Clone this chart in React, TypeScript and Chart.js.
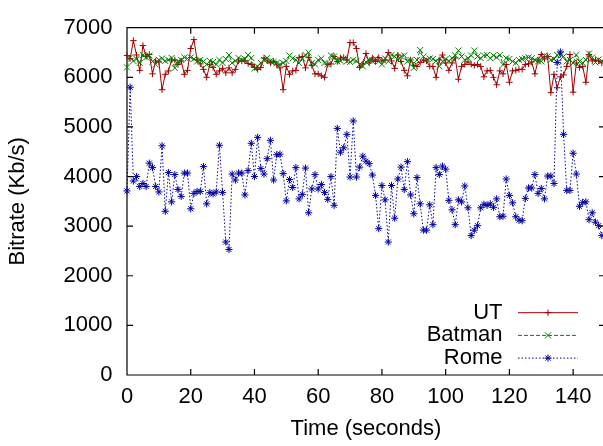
import React, { useEffect, useRef } from "react";
import { Chart, registerables } from "chart.js";

Chart.register(...registerables);

// ---- data ----
const seconds: number[] = Array.from({ length: 150 }, (_, i) => i);

const utBitrate: number[] = [
  6440, 6380, 6740, 6450, 6140, 6640, 6420, 6460, 6070, 6330,
  6310, 5750, 6060, 6130, 6350, 6350, 6260, 6330, 6060, 6140,
  6580, 6760, 6350, 6270, 6160, 6000, 6260, 6200, 6060, 6130,
  6180, 6090, 6190, 6090, 6160, 6330, 6330, 6330, 6280, 6260,
  6200, 6160, 6200, 6390, 6330, 6290, 6320, 6250, 6190, 5750,
  6220, 6060, 6130, 6140, 6400, 6420, 6190, 6400, 6240, 6070,
  6070, 6030, 6000, 6260, 6270, 6420, 6320, 6390, 6400, 6350,
  6700, 6700, 6580, 6200, 6270, 6480, 6290, 6390, 6320, 6400,
  6330, 6350, 6500, 6330, 6180, 6450, 6320, 6140, 6030, 6350,
  6240, 6220, 6300, 6350, 6330, 6220, 6220, 6000, 6350, 6450,
  6290, 6140, 6290, 6390, 5960, 6220, 6260, 6310, 6260, 6240,
  6260, 6220, 6010, 6130, 6140, 6000, 5850, 6130, 6070, 6260,
  5900, 6130, 6140, 6160, 6160, 6260, 6270, 6310, 6070, 6350,
  6460, 6370, 6420, 5690, 6060, 5790, 6010, 6050, 6220, 6460,
  5700, 6290, 6200, 6220, 5900, 6460, 6330, 6350, 6330, 6290,
];

const batmanBitrate: number[] = [
  6200, 6400, 6330, 6370, 6290, 6450, 6400, 6440, 6320, 6260,
  6350, 6380, 6330, 6350, 6390, 6190, 6320, 6350, 6400, 6380,
  6400, 6370, 6320, 6350, 6320, 6260, 6330, 6310, 6260, 6350,
  6290, 6370, 6450, 6290, 6330, 6390, 6350, 6370, 6450, 6390,
  6180, 6220, 6290, 6350, 6390, 6330, 6310, 6290, 6260, 6290,
  6330, 6440, 6380, 6350, 6290, 6380, 6450, 6500, 6290, 6260,
  6350, 6380, 6290, 6260, 6440, 6420, 6320, 6330, 6380, 6320,
  6310, 6350, 6330, 6260, 6220, 6310, 6350, 6320, 6380, 6320,
  6260, 6380, 6320, 6450, 6420, 6350, 6420, 6440, 6320, 6350,
  6190, 6350, 6550, 6420, 6350, 6380, 6370, 6330, 6220, 6320,
  6370, 6330, 6385, 6440, 6540, 6420, 6350, 6385, 6440, 6540,
  6420, 6385, 6440, 6450, 6385, 6440, 6400, 6450, 6255, 6385,
  6370, 6320, 6290, 6350, 6370, 6385, 6400, 6385, 6350, 6320,
  6320, 6440, 6420, 6350, 6370, 6450, 6460, 6420, 6320, 6350,
  6290, 6450, 6320, 6290, 6350, 6480, 6400, 6300, 6360, 6330,
];

const romeBitrate: number[] = [
  3710, 5800, 3910, 4000, 3800, 3860, 3800, 4270, 4180, 3800,
  3690, 4620, 3300, 4080, 3490, 4040, 3740, 3600, 4070, 4070,
  3350, 3660, 3700, 3700, 4200, 3450, 3680, 3650, 3690, 4630,
  3680, 2680, 2530, 4050, 3930, 4070, 4070, 3630, 4120, 4670,
  4000, 4790, 4160, 4050, 4360, 4730, 3930, 4440, 4450, 4060,
  3510, 3940, 3780, 4180, 3550, 3640, 4170, 3270, 3750, 4040,
  3750, 3840, 3680, 3540, 4000, 3420, 4970, 4490, 4580, 4850,
  3990, 5120, 3990, 4190, 4410, 4310, 4260, 4030, 3620, 2950,
  3820, 3530, 2680, 3820, 3160, 3950, 4190, 3740, 4300, 3630,
  3250, 3980, 3450, 2920, 2920, 3430, 3030, 4180, 4040, 4210,
  4150, 3520, 3330, 3030, 3530, 3490, 3810, 3370, 2810, 2920,
  3010, 3370, 3440, 3420, 3450, 3380, 3550, 3190, 3200, 3950,
  3620, 3470, 3190, 3120, 3110, 3560, 3770, 3770, 4040, 3660,
  3760, 3550, 4010, 4010, 3860, 6300, 6510, 4850, 3720, 3720,
  4470, 4050, 3400, 3480, 3490, 3130, 3270, 3080, 3010, 2810,
];

const xTicks: number[] = [0, 20, 40, 60, 80, 100, 120, 140];
const yTicks: number[] = [0, 1000, 2000, 3000, 4000, 5000, 6000, 7000];
const seriesNames: string[] = ["UT", "Batman", "Rome"];

// ---- styles ----
const FONT_FAMILY = "'Liberation Sans', Arial, Helvetica, sans-serif";
const FONT_SIZE = 22;
const RED = "#a00000";
const GREEN = "#008000";
const BLUE = "#0000a0";

function drawMarker(ctx: CanvasRenderingContext2D, style: string, x: number, y: number, r: number) {
  ctx.beginPath();
  if (style === "cross" || style === "star") {
    ctx.moveTo(x - r, y);
    ctx.lineTo(x + r, y);
    ctx.moveTo(x, y - r);
    ctx.lineTo(x, y + r);
  }
  if (style === "crossRot" || style === "star") {
    const d = r * Math.SQRT1_2;
    ctx.moveTo(x - d, y - d);
    ctx.lineTo(x + d, y + d);
    ctx.moveTo(x - d, y + d);
    ctx.lineTo(x + d, y - d);
  }
  ctx.stroke();
}

const framePlugin = {
  id: "gnuplotFrame",
  beforeDatasetsDraw(chart: any) {
    const { ctx, chartArea } = chart;
    const { left, right, top, bottom } = chartArea;
    const xs = chart.scales.x;
    const ys = chart.scales.y;
    const tl = 6;
    ctx.save();
    ctx.strokeStyle = "#000";
    ctx.lineWidth = 1.2;
    ctx.beginPath();
    ctx.rect(left, top, right - left, bottom - top);
    for (const v of yTicks) {
      const py = ys.getPixelForValue(v);
      ctx.moveTo(left, py);
      ctx.lineTo(left + tl, py);
      ctx.moveTo(right, py);
      ctx.lineTo(right - tl, py);
    }
    for (const v of xTicks) {
      const px = xs.getPixelForValue(v);
      ctx.moveTo(px, bottom);
      ctx.lineTo(px, bottom - tl);
      ctx.moveTo(px, top);
      ctx.lineTo(px, top + tl);
    }
    ctx.stroke();
    ctx.restore();
  },
  afterDraw(chart: any) {
    const { ctx, chartArea } = chart;
    const { right, bottom } = chartArea;
    ctx.save();
    ctx.font = `${FONT_SIZE}px ${FONT_FAMILY}`;
    ctx.textAlign = "right";
    ctx.textBaseline = "middle";
    chart.data.datasets.forEach((ds: any, i: number) => {
      const y = bottom - 62.3 + i * 22.7;
      ctx.fillStyle = "#000";
      ctx.fillText(ds.label, right - 102.5, y);
      ctx.strokeStyle = ds.borderColor;
      ctx.lineWidth = 1;
      ctx.setLineDash(ds.borderDash || []);
      ctx.beginPath();
      ctx.moveTo(right - 87, y);
      ctx.lineTo(right - 27, y);
      ctx.stroke();
      ctx.setLineDash([]);
      drawMarker(ctx, ds.pointStyle, right - 57, y, ds.pointRadius);
    });
    ctx.restore();
  },
};

export default function App() {
  const canvasRef = useRef<HTMLCanvasElement | null>(null);

  useEffect(() => {
    document.body.style.margin = "0";
    const canvas = canvasRef.current;
    if (!canvas) return;
    const font = { family: FONT_FAMILY, size: FONT_SIZE };
    const seriesValues = [utBitrate, batmanBitrate, romeBitrate];
    const colors = [RED, GREEN, BLUE];
    const styles = ["cross", "crossRot", "star"];
    const radii = [3.2, 4.3, 3.6];
    const dashes = [[], [4, 2], [1.5, 2]];
    const orders = [3, 2, 1];

    const chart = new Chart(canvas, {
      type: "line",
      data: {
        datasets: seriesNames.map((name, k) => ({
          label: name,
          data: seconds.map((s, i) => ({ x: s, y: seriesValues[k][i] })),
          borderColor: colors[k],
          backgroundColor: colors[k],
          borderWidth: 1,
          borderDash: dashes[k],
          pointStyle: styles[k],
          pointRadius: radii[k],
          pointBorderWidth: 1,
          pointBorderColor: colors[k],
          pointBackgroundColor: colors[k],
          tension: 0,
          fill: false,
          order: orders[k],
          clip: false,
        })) as any,
      },
      options: {
        responsive: false,
        maintainAspectRatio: false,
        animation: false,
        devicePixelRatio: 1,
        events: [],
        layout: { padding: { top: 15, right: 15, left: 0, bottom: 0 } },
        plugins: {
          legend: { display: false },
          tooltip: { enabled: false },
        },
        scales: {
          x: {
            type: "linear",
            min: 0,
            max: 150,
            grid: { display: false, drawTicks: false },
            border: { display: false },
            afterBuildTicks: (s: any) => {
              s.ticks = xTicks.map((v) => ({ value: v }));
            },
            ticks: {
              font,
              color: "#000",
              padding: 9,
              maxRotation: 0,
              autoSkip: false,
              callback: (v: any) => String(v),
            },
            title: {
              display: true,
              text: "Time (seconds)",
              font,
              color: "#000",
              padding: { top: 0, bottom: 4 },
            },
            afterFit: (s: any) => {
              s.height = 71;
            },
          },
          y: {
            type: "linear",
            min: 0,
            max: 7000,
            grid: { display: false, drawTicks: false },
            border: { display: false },
            afterBuildTicks: (s: any) => {
              s.ticks = yTicks.map((v) => ({ value: v }));
            },
            ticks: {
              font,
              color: "#000",
              padding: 14.5,
              autoSkip: false,
              callback: (v: any) => String(v),
            },
            title: {
              display: true,
              text: "Bitrate (Kb/s)",
              font,
              color: "#000",
              padding: { top: 5, bottom: 0 },
            },
            afterFit: (s: any) => {
              s.width = 127;
            },
          },
        },
      } as any,
      plugins: [framePlugin],
    });
    return () => chart.destroy();
  }, []);

  return (
    <div
      style={{
        position: "fixed",
        left: 0,
        top: 0,
        width: 603,
        height: 446,
        overflow: "hidden",
        background: "#fff",
      }}
    >
      <canvas
        ref={canvasRef}
        width={620}
        height={446}
        style={{ width: "620px", height: "446px", display: "block" }}
      />
    </div>
  );
}
